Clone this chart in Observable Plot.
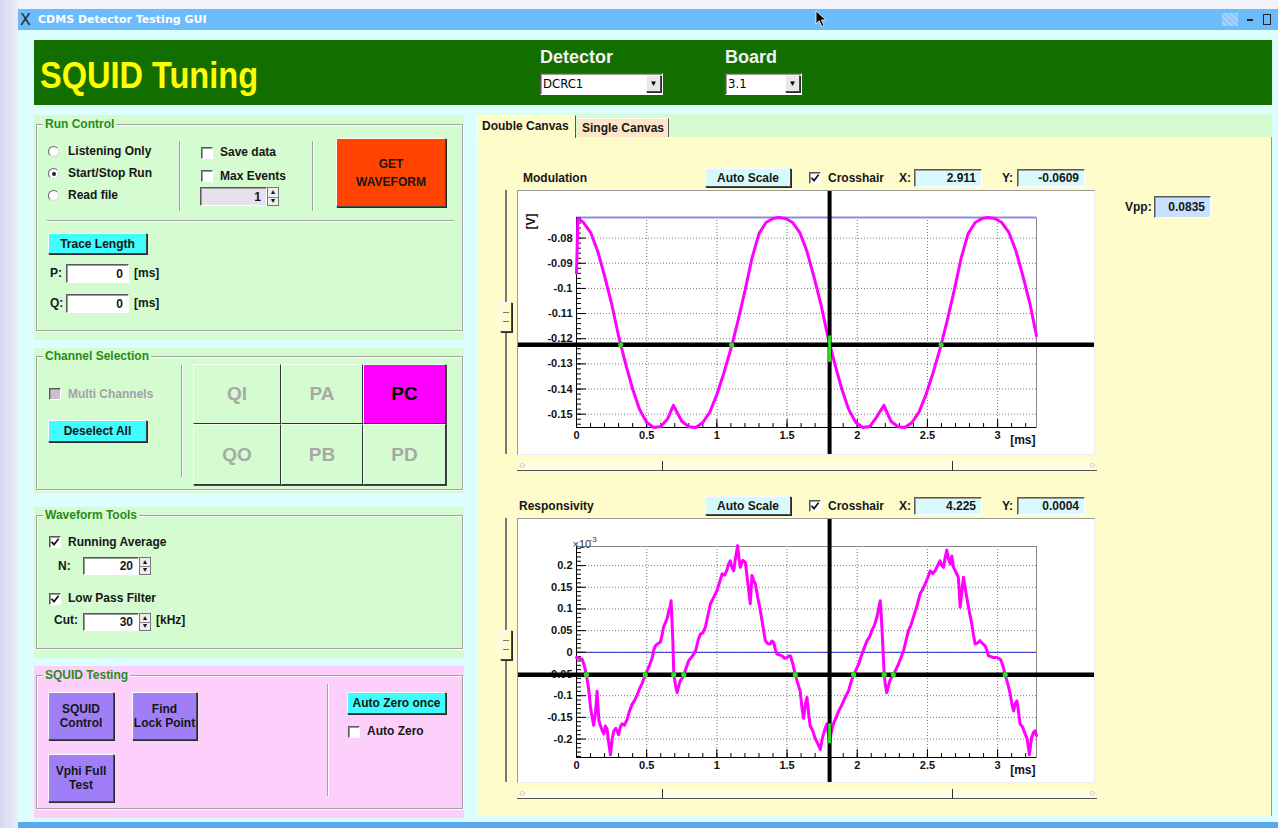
<!DOCTYPE html>
<html>
<head>
<meta charset="utf-8">
<script src="https://cdn.jsdelivr.net/npm/d3@7"></script>
<script src="https://cdn.jsdelivr.net/npm/@observablehq/plot@0.6"></script>
<style>
  html, body { margin: 0; padding: 0; }
  body { width: 1278px; height: 828px; position: relative; overflow: hidden; background: #f2f2fb;
         font-family: "Liberation Sans", Arial, sans-serif; font-size: 12px; font-weight: bold; color: #161616; }
  .a { position: absolute; box-sizing: border-box; }
  .t { position: absolute; white-space: nowrap; line-height: 16px; height: 16px; }
  .raised { border: 1px solid; border-color: #fafafa #4a4a4a #4a4a4a #fafafa; box-shadow: 1px 1px 0 #2a2a2a; }
  .sunken { border: 1px solid; border-color: #5a5a5a #fff #fff #5a5a5a; box-shadow: inset 1px 1px 0 #9a9a9a; }
  .etched { border: 1px solid #a2a2a2; box-shadow: inset 1px 1px 0 #fff, 1px 1px 0 #fff; }
  .center { display: flex; align-items: center; justify-content: center; text-align: center; line-height: 14px; }
</style>
</head>
<body>
<script>
// ---------------------------------------------------------------
// Waveform data
// ---------------------------------------------------------------

// Modulation trace: SQUID output [V] against time [ms]
const modTime = [0, 0.01, 0.05, 0.10, 0.15, 0.20, 0.25, 0.30, 0.35, 0.40, 0.45, 0.50, 0.55, 0.60, 0.65, 0.69,
  0.75, 0.80, 0.85, 0.90, 0.95, 1.00, 1.05, 1.10, 1.15, 1.20, 1.25, 1.30, 1.35, 1.40, 1.44,
  1.49, 1.54, 1.59, 1.64, 1.69, 1.74, 1.79, 1.84, 1.89, 1.94, 1.99, 2.04, 2.09, 2.13, 2.19,
  2.24, 2.29, 2.34, 2.39, 2.44, 2.49, 2.54, 2.59, 2.64, 2.69, 2.74, 2.79, 2.84, 2.89, 2.93,
  2.98, 3.03, 3.08, 3.13, 3.18, 3.23, 3.277];
const modVolt = [-0.0940, -0.0722,
  -0.0738, -0.0777, -0.0850, -0.0950, -0.1060, -0.1190, -0.1300, -0.1400, -0.1482, -0.1533, -0.1553, -0.1549, -0.1518,
  -0.1465,
  -0.1528, -0.1550, -0.1553, -0.1533, -0.1492, -0.1422, -0.1336, -0.1240, -0.1130, -0.1010, -0.0880, -0.0782, -0.0738, -0.0722,
  -0.0718,
  -0.0722, -0.0738, -0.0777, -0.0850, -0.0950, -0.1060, -0.1190, -0.1300, -0.1400, -0.1482, -0.1533, -0.1553, -0.1549,
  -0.1518, -0.1465,
  -0.1528, -0.1550, -0.1553, -0.1533, -0.1492, -0.1422, -0.1336, -0.1240, -0.1130, -0.1010, -0.0880, -0.0782, -0.0738, -0.0722,
  -0.0718,
  -0.0722, -0.0738, -0.0777, -0.0850, -0.0950, -0.1060, -0.1188];

// Responsivity trace (x10^-3) against time [ms]
const respTime = [0.000, 0.020, 0.040, 0.055, 0.071, 0.088, 0.100, 0.112, 0.122, 0.135, 0.147, 0.152, 0.160, 0.172, 0.185,
  0.195, 0.205, 0.218, 0.228, 0.242, 0.254, 0.266, 0.280, 0.300, 0.312, 0.325, 0.342, 0.360, 0.378, 0.396, 0.412, 0.430,
  0.448, 0.467, 0.490, 0.503, 0.520, 0.540, 0.550, 0.562, 0.580, 0.598, 0.610, 0.620, 0.635, 0.648, 0.657, 0.667, 0.674,
  0.680, 0.686, 0.693, 0.705, 0.717, 0.728, 0.740, 0.752, 0.764, 0.782, 0.800, 0.818, 0.835, 0.850, 0.868, 0.883, 0.900,
  0.918, 0.936, 0.954, 0.970, 0.985, 1.000, 1.018, 1.037, 1.055, 1.072, 1.085, 1.096, 1.108, 1.120, 1.134, 1.148, 1.158,
  1.167, 1.185, 1.203, 1.215, 1.227, 1.238, 1.250, 1.262, 1.274, 1.292, 1.310, 1.328, 1.345, 1.362, 1.380, 1.392, 1.405,
  1.418, 1.428, 1.446, 1.464, 1.482, 1.500, 1.512, 1.523, 1.540, 1.559, 1.575, 1.594, 1.605, 1.618, 1.630, 1.642, 1.655,
  1.665, 1.682, 1.700, 1.718, 1.737, 1.750, 1.760, 1.772, 1.784, 1.795, 1.803, 1.815, 1.830, 1.850, 1.868, 1.885, 1.903,
  1.920, 1.939, 1.956, 1.974, 1.992, 2.010, 2.022, 2.034, 2.052, 2.070, 2.087, 2.104, 2.122, 2.140, 2.152, 2.164, 2.172,
  2.180, 2.192, 2.200, 2.210, 2.222, 2.233, 2.245, 2.257, 2.275, 2.294, 2.312, 2.330, 2.348, 2.365, 2.382, 2.400, 2.424,
  2.448, 2.466, 2.484, 2.502, 2.520, 2.538, 2.555, 2.572, 2.590, 2.602, 2.614, 2.626, 2.638, 2.650, 2.662, 2.674, 2.686,
  2.703, 2.720, 2.727, 2.733, 2.745, 2.757, 2.768, 2.780, 2.798, 2.816, 2.828, 2.840, 2.858, 2.875, 2.893, 2.911, 2.923,
  2.935, 2.952, 2.970, 2.995, 3.020, 3.037, 3.054, 3.072, 3.090, 3.102, 3.114, 3.126, 3.138, 3.150, 3.160, 3.178, 3.196,
  3.210, 3.227, 3.236, 3.243, 3.255, 3.267, 3.277];
const respVal = [-0.012, -0.014, -0.016, -0.030, -0.052, -0.088, -0.127, -0.150, -0.168, -0.140, -0.090, -0.120, -0.158, -0.170, -0.182,
  -0.188, -0.170, -0.177, -0.205, -0.236, -0.200, -0.181, -0.175, -0.190, -0.172, -0.165, -0.168, -0.155, -0.135, -0.120, -0.112, -0.100,
  -0.085, -0.072, -0.052, -0.042, -0.030, -0.012, 0.005, 0.015, 0.020, 0.024, 0.040, 0.058, 0.070, 0.080, 0.096, 0.105, 0.119,
  0.075, 0.030, -0.050, -0.075, -0.093, -0.078, -0.065, -0.060, -0.052, -0.035, -0.019, -0.012, -0.004, 0.005, 0.030, 0.042, 0.045,
  0.058, 0.085, 0.112, 0.122, 0.132, 0.142, 0.160, 0.181, 0.178, 0.190, 0.205, 0.211, 0.195, 0.188, 0.220, 0.246, 0.215,
  0.196, 0.212, 0.208, 0.175, 0.142, 0.112, 0.177, 0.165, 0.158, 0.125, 0.096, 0.060, 0.027, 0.020, 0.019, 0.026, 0.023,
  0.005, -0.004, -0.006, -0.008, -0.014, -0.012, -0.009, -0.008, -0.025, -0.052, -0.070, -0.090, -0.125, -0.152, -0.120, -0.104, -0.145,
  -0.170, -0.180, -0.198, -0.210, -0.224, -0.200, -0.188, -0.175, -0.165, -0.190, -0.212, -0.185, -0.165, -0.150, -0.135, -0.125, -0.112,
  -0.100, -0.088, -0.068, -0.052, -0.040, -0.027, -0.015, -0.004, 0.012, 0.027, 0.035, 0.050, 0.062, 0.081, 0.100, 0.119, 0.080,
  0.030, -0.050, -0.075, -0.093, -0.078, -0.065, -0.058, -0.052, -0.040, -0.027, -0.012, 0.004, 0.028, 0.050, 0.062, 0.081, 0.105,
  0.135, 0.145, 0.158, 0.172, 0.188, 0.182, 0.188, 0.200, 0.211, 0.200, 0.196, 0.218, 0.236, 0.215, 0.204, 0.222, 0.196,
  0.185, 0.173, 0.140, 0.104, 0.140, 0.173, 0.150, 0.127, 0.095, 0.065, 0.040, 0.019, 0.022, 0.027, 0.020, 0.015, 0.005,
  -0.008, -0.010, -0.012, -0.012, -0.016, -0.030, -0.052, -0.072, -0.096, -0.120, -0.135, -0.118, -0.112, -0.140, -0.165, -0.172, -0.188,
  -0.200, -0.236, -0.210, -0.196, -0.185, -0.181, -0.192];

// Axis ticks
const xTicks = [0, 0.5, 1, 1.5, 2, 2.5, 3];
const modYTicks = [-0.15, -0.14, -0.13, -0.12, -0.11, -0.1, -0.09, -0.08];
const respYTicks = [-0.2, -0.15, -0.1, -0.05, 0, 0.05, 0.1, 0.15, 0.2];

// Scale extents, cursor and reference levels
const timeRange = [0, 3.277];
const modRange = [-0.1553, -0.0718];
const respRange = [-0.2425, 0.2440];
const cursorTime = 1.803;
const modCursorLevel = -0.1224;
const respCursorLevel = -0.0515;
const modMaxLevel = -0.0718;
const respZeroLevel = 0;

// Points where the trace meets the cursor lines
const modHits = [0.315, 1.105, 2.597];
const modCursorSpan = [-0.1189, -0.1294];
const respHits = [0.071, 0.49, 0.693, 0.764, 1.559, 1.974, 2.192, 2.257, 3.054];
const respCursorSpan = [-0.165, -0.211];

// Read-outs shown in the panel
const modReadout = {x: "2.911", y: "-0.0609"};
const respReadout = {x: "4.225", y: "0.0004"};
const vpp = "0.0835";

// ---------------------------------------------------------------
// Small widget helpers
// ---------------------------------------------------------------
function box(x, y, w, h, cls = "", style = {}, html = "") {
  const d = document.createElement("div");
  d.className = "a " + cls;
  Object.assign(d.style, {left: x + "px", top: y + "px", width: w + "px", height: h + "px"}, style);
  d.innerHTML = html;
  document.body.appendChild(d);
  return d;
}
function text(x, cy, s, style = {}) {
  const d = document.createElement("div");
  d.className = "t";
  Object.assign(d.style, {left: x + "px", top: (cy - 8) + "px"}, style);
  d.textContent = s;
  document.body.appendChild(d);
  return d;
}
function entry(x, y, w, h, val, bg = "#fff") {
  return box(x, y, w, h, "sunken", {background: bg, display: "flex", alignItems: "center",
    justifyContent: "flex-end", paddingRight: "5px"}, val);
}
const CHECK = '<svg width="10" height="10" viewBox="0 0 10 10" style="position:absolute;left:0;top:0"><path d="M1.5 4.8 L4 7.6 L8.6 1.8" stroke="#111" stroke-width="1.7" fill="none"/></svg>';
function checkbox(x, y, checked, disabled) {
  return box(x, y, 12, 12, "sunken", {background: disabled ? "#c9bfcf" : "#fff"}, checked ? CHECK : "");
}
function radio(x, cy, checked) {
  const r = box(x, cy - 5, 11, 11, "", {borderRadius: "50%", background: "#fff",
    border: "1px solid", borderColor: "#666 #ddd #ddd #666"});
  if (checked) r.innerHTML = '<div style="position:absolute;left:2.5px;top:2.5px;width:4px;height:4px;border-radius:50%;background:#222"></div>';
  return r;
}
function spinner(x, y, h) {
  const s = box(x, y, 12, h, "", {background: "#eee", border: "1px solid #777"});
  s.innerHTML = '<div style="position:absolute;left:0;right:0;top:0;height:50%;border-bottom:1px solid #888;font-size:7px;line-height:' + (h / 2 - 1) + 'px;text-align:center">&#9650;</div>' +
                '<div style="position:absolute;left:0;right:0;bottom:0;height:50%;font-size:7px;line-height:' + (h / 2 - 1) + 'px;text-align:center">&#9660;</div>';
  return s;
}
function button(x, y, w, h, bg, html, style = {}) {
  return box(x, y, w, h, "raised center", Object.assign({background: bg}, style), html);
}
function group(bgY, bgH, bg, title, bY, bH) {
  box(34, bgY, 430, bgH, "", {background: bg});
  box(36, bY, 427, bH, "etched");
  text(43, bY, title, {color: "#2b8a22", background: bg, padding: "0 2px", fontWeight: "bold"});
}
function dropdown(x, y, w, val) {
  const d = box(x, y, w, 22, "sunken", {background: "#fff"});
  d.innerHTML = '<div style="position:absolute;left:2px;top:2px;font:13px \'DejaVu Sans Condensed\',\'DejaVu Sans\',sans-serif;color:#000">' + val + '</div>' +
    '<div class="raised" style="position:absolute;right:1px;top:1px;width:15px;height:17px;box-sizing:border-box;background:#e8e8e8;font-size:8px;text-align:center;line-height:15px;color:#000">&#9660;</div>';
}

// ---------------------------------------------------------------
// Window frame
// ---------------------------------------------------------------
box(0, 0, 18, 828, "", {background: "linear-gradient(to right, #d6d6f0, #ececfa)"});
box(18, 9, 1260, 21, "", {background: "#6cbcfc"});
text(20, 20, "X", {fontFamily: "'DejaVu Sans', sans-serif", fontSize: "16px", fontWeight: "normal", color: "#2a2a2a"});
text(38, 20, "CDMS Detector Testing GUI", {fontFamily: "'DejaVu Sans', sans-serif", fontSize: "11px", color: "#fff"});
box(1222, 13, 16, 13, "", {background: "repeating-linear-gradient(45deg, #8fc8f8 0 2px, #a8d4fb 2px 4px)"});
box(1247, 19, 6, 2, "", {background: "#222"});
box(1263, 14, 8, 11, "", {border: "1px solid #222"});
box(18, 30, 1260, 793, "", {background: "#dcfefe"});
box(18, 822, 1260, 6, "", {background: "#5aa8f0"});

// Cursor arrow
box(815, 10, 12, 18, "", {}, '<svg width="12" height="18"><path d="M1 1 L1 14 L4.3 10.8 L6.8 16.5 L9 15.6 L6.5 10 L11 10 Z" fill="#000" stroke="#fff" stroke-width="0.8"/></svg>');

// Header
box(34, 40, 1238, 65, "", {background: "#136e00"});
const heading = text(40, 76, "SQUID Tuning", {fontSize: "36px", height: "40px", lineHeight: "40px", top: "56px", color: "#ffff00", transformOrigin: "left center"});
text(540, 57, "Detector", {fontSize: "18px", height: "22px", lineHeight: "22px", top: "46px", color: "#f2f2f2"});
text(725, 57, "Board", {fontSize: "18px", height: "22px", lineHeight: "22px", top: "46px", color: "#f2f2f2"});
dropdown(540, 73, 123, "DCRC1");
dropdown(725, 73, 77, "3.1");

// ---------------------------------------------------------------
// Run Control
// ---------------------------------------------------------------
group(115, 225, "#d4fcd0", "Run Control", 124, 207);
radio(48, 151, false); text(68, 151, "Listening Only");
radio(48, 173, true);  text(68, 173, "Start/Stop Run");
radio(48, 195, false); text(68, 195, "Read file");
box(179, 141, 2, 70, "", {borderLeft: "1px solid #a2a2a2", borderRight: "1px solid #fff"});
checkbox(201, 147, false); text(220, 152, "Save data");
checkbox(201, 170, false); text(220, 176, "Max Events");
entry(200, 187, 67, 19, "1", "#e8e0ee");
spinner(267, 187, 19);
box(312, 141, 2, 70, "", {borderLeft: "1px solid #a2a2a2", borderRight: "1px solid #fff"});
button(336, 138, 110, 69, "#ff4400", "GET<br>WAVEFORM", {fontSize: "12px", lineHeight: "18px"});
box(47, 220, 407, 2, "", {borderTop: "1px solid #a2a2a2", borderBottom: "1px solid #fff"});
button(48, 233, 99, 21, "#40fcfc", "Trace Length");
text(50, 273, "P:"); entry(66, 264, 63, 19, "0"); text(134, 273, "[ms]");
text(50, 303, "Q:"); entry(66, 294, 63, 19, "0"); text(134, 303, "[ms]");

// ---------------------------------------------------------------
// Channel Selection
// ---------------------------------------------------------------
group(348, 145, "#d4fcd0", "Channel Selection", 356, 134);
checkbox(49, 388, false, true); text(68, 394, "Multi Channels", {color: "#a4a0a8"});
button(48, 420, 99, 22, "#40fcfc", "Deselect All");
box(181, 365, 2, 112, "", {borderLeft: "1px solid #a2a2a2", borderRight: "1px solid #fff"});
const channels = [["QI", "PA", "PC"], ["QO", "PB", "PD"]];
const colX = [193, 281, 363, 446], rowY = [364, 424, 485];
channels.forEach((row, r) => row.forEach((c, k) => {
  const on = c === "PC";
  box(colX[k], rowY[r], colX[k + 1] - colX[k], rowY[r + 1] - rowY[r], "center",
    {background: on ? "#ff00ff" : "#d4fcd0", border: "1px solid", borderColor: "#f6fff4 #333 #333 #f6fff4",
     boxShadow: "1px 1px 0 #444", fontSize: "19px", color: on ? "#000" : "#a8a8a8"}, c);
}));

// ---------------------------------------------------------------
// Waveform Tools
// ---------------------------------------------------------------
group(507, 151, "#d4fcd0", "Waveform Tools", 515, 134);
checkbox(49, 536, true); text(68, 542, "Running Average");
text(58, 566, "N:"); entry(83, 557, 56, 18, "20"); spinner(139, 557, 18);
checkbox(49, 593, true); text(68, 598, "Low Pass Filter");
text(54, 620, "Cut:"); entry(83, 613, 56, 18, "30"); spinner(139, 613, 18); text(156, 620, "[kHz]");

// ---------------------------------------------------------------
// SQUID Testing
// ---------------------------------------------------------------
group(666, 152, "#fdd0fc", "SQUID Testing", 675, 134);
button(48, 692, 66, 48, "#a07ef8", "SQUID<br>Control");
button(132, 692, 65, 48, "#a07ef8", "Find<br>Lock Point");
button(48, 754, 66, 48, "#a07ef8", "Vphi Full<br>Test");
box(327, 684, 2, 112, "", {borderLeft: "1px solid #a2a2a2", borderRight: "1px solid #fff"});
button(347, 692, 99, 22, "#40fcfc", "Auto Zero once");
checkbox(348, 726, false); text(367, 731, "Auto Zero");

// ---------------------------------------------------------------
// Canvas area with tabs
// ---------------------------------------------------------------
box(477, 114, 795, 23, "", {background: "#d4fcd0"});
box(477, 137, 795, 679, "", {background: "#fefcca", borderRight: "1px solid #9a9a9a"});
box(477, 115, 99, 23, "", {background: "#fefcca", borderTop: "1px solid #fff", borderLeft: "1px solid #fff", borderRight: "1px solid #555"});
text(482, 126, "Double Canvas");
box(577, 118, 92, 19, "", {background: "#fde6c6", borderTop: "1px solid #fff", borderRight: "1px solid #555"});
text(582, 128, "Single Canvas");

function canvasHeader(y0, title, readout) {
  text(title === "Modulation" ? 523 : 519, y0 + 10, title);
  button(705, y0, 86, 19, "#d6fafc", "Auto Scale");
  checkbox(809, y0 + 4, true);
  text(828, y0 + 10, "Crosshair");
  text(899, y0 + 10, "X:");
  entry(914, y0 + 1, 68, 18, readout.x, "#d8fafe");
  text(1002, y0 + 10, "Y:");
  entry(1017, y0 + 1, 68, 18, readout.y, "#d8fafe");
}
canvasHeader(168, "Modulation", modReadout);
canvasHeader(496, "Responsivity", respReadout);
text(1125, 207, "Vpp:");
entry(1154, 196, 57, 22, vpp, "#c6e2fc");

function sliders(y0) {
  box(505, y0, 2, 264, "", {background: "#777"});
  box(500, y0 + 112, 12, 30, "raised", {background: "#fefcca"},
    '<div style="position:absolute;left:2px;right:2px;top:9px;height:1px;background:#777"></div><div style="position:absolute;left:2px;right:2px;top:18px;height:1px;background:#777"></div>');
  box(517, y0 + 271, 580, 10, "", {borderBottom: "1px solid #555", background: "#fffde2"});
  box(662, y0 + 271, 1, 10, "", {background: "#333"});
  box(952, y0 + 271, 1, 10, "", {background: "#333"});
  text(519, y0 + 276, "\u2729", {fontSize: "8px", color: "#999", fontWeight: "normal"});
  text(1089, y0 + 276, "\u2729", {fontSize: "8px", color: "#999", fontWeight: "normal"});
}
sliders(190);
sliders(518);

// ---------------------------------------------------------------
// Scope canvases drawn with Plot
// ---------------------------------------------------------------
const W = 578, H = 265, ML = 59, MR = 59;
const fmt = d => String(+d.toFixed(4));
const xMinor = d3.range(0, 3.25, 0.1);

function scope({t, v, yDomain, yTicks, yMinor, refY, refStroke, refWidth, cursorY, hits, cursorSpan, mt, mb, extra}) {
  const pw = W - ML - MR, ph = H - mt - mb;
  return Plot.plot({
    width: W, height: H,
    marginLeft: ML, marginRight: MR, marginTop: mt, marginBottom: mb,
    x: {domain: timeRange},
    y: {domain: yDomain},
    style: {background: "#fff", fontFamily: "'Liberation Sans', Arial, sans-serif", fontSize: "11px",
            fontWeight: "bold", color: "#111"},
    marks: [
      Plot.gridX(xTicks.filter(d => d > 0), {stroke: "#7a7a7a", strokeOpacity: 1, strokeDasharray: "1,2"}),
      Plot.gridY(yTicks, {stroke: "#7a7a7a", strokeOpacity: 1, strokeDasharray: "1,2"}),
      Plot.frame({stroke: "#8a8a8a"}),
      Plot.ruleY([refY], {stroke: refStroke, strokeWidth: refWidth}),
      Plot.ruleX([timeRange[0]], {stroke: "#000"}),
      Plot.ruleY([yDomain[0]], {stroke: "#000"}),
      Plot.tickY(yMinor, {stroke: "#000", insetRight: pw - 5}),
      Plot.tickY(yTicks, {stroke: "#000", insetRight: pw - 10}),
      Plot.tickX(xMinor, {stroke: "#000", insetTop: ph - 4}),
      Plot.tickX(xTicks, {stroke: "#000", insetTop: ph - 8}),
      Plot.axisX(xTicks, {tickSize: 0, tickPadding: 4, tickFormat: fmt, label: null}),
      Plot.axisY(yTicks, {tickSize: 0, tickPadding: 4, tickFormat: fmt, label: null}),
      Plot.text(["[ms]"], {frameAnchor: "bottom-right", dx: -1, dy: 16, textAnchor: "end", fontSize: 12}),
      ...extra,
      Plot.line(t, {x: t, y: v, stroke: "#ff00ff", strokeWidth: 3, strokeLinejoin: "round"}),
      Plot.ruleY([cursorY], {stroke: "#000", strokeWidth: 4.5, insetLeft: -ML, insetRight: -MR}),
      Plot.ruleX([cursorTime], {stroke: "#000", strokeWidth: 4, insetTop: -mt, insetBottom: -mb}),
      Plot.ruleX([cursorTime], {y1: cursorSpan[0], y2: cursorSpan[1], stroke: "#30e020", strokeWidth: 3}),
      Plot.dot(hits, {x: d => d, y: () => cursorY, r: 2.6, fill: "#30e020", stroke: null})
    ]
  });
}

function mount(svg, y0) {
  const holder = box(517, y0, W, H, "", {background: "#fff", overflow: "hidden"});
  holder.appendChild(svg);
  box(517, y0, W, H, "", {border: "1px solid", borderColor: "#9a9a9a #eeeeee #eeeeee #9a9a9a", pointerEvents: "none"});
}

mount(scope({
  t: modTime, v: modVolt, yDomain: modRange, yTicks: modYTicks,
  yMinor: d3.range(-0.154, -0.0719, 0.002),
  refY: modMaxLevel, refStroke: "#8c8ce6", refWidth: 2,
  cursorY: modCursorLevel, hits: modHits, cursorSpan: modCursorSpan, mt: 27, mb: 28,
  extra: [Plot.text(["[V]"], {frameAnchor: "top-left", dx: -50, dy: 12, rotate: -90, fontSize: 12})]
}), 190);

mount(scope({
  t: respTime, v: respVal, yDomain: respRange, yTicks: respYTicks,
  yMinor: d3.range(-0.24, 0.244, 0.01),
  refY: respZeroLevel, refStroke: "#2626c4", refWidth: 1,
  cursorY: respCursorLevel, hits: respHits, cursorSpan: respCursorSpan, mt: 28, mb: 26,
  extra: [
    Plot.text(["\u00d710"], {frameAnchor: "top-left", dx: -4, dy: -6, textAnchor: "start", fontWeight: "normal", fill: "#333"}),
    Plot.text(["-3"], {frameAnchor: "top-left", dx: 13, dy: -10, textAnchor: "start", fontSize: 8, fontWeight: "normal", fill: "#333"})
  ]
}), 518);

// Fit the heading to its box width
const hw = heading.getBoundingClientRect().width;
heading.style.transform = "scaleX(" + (218 / hw) + ")";
</script>
</body>
</html>
